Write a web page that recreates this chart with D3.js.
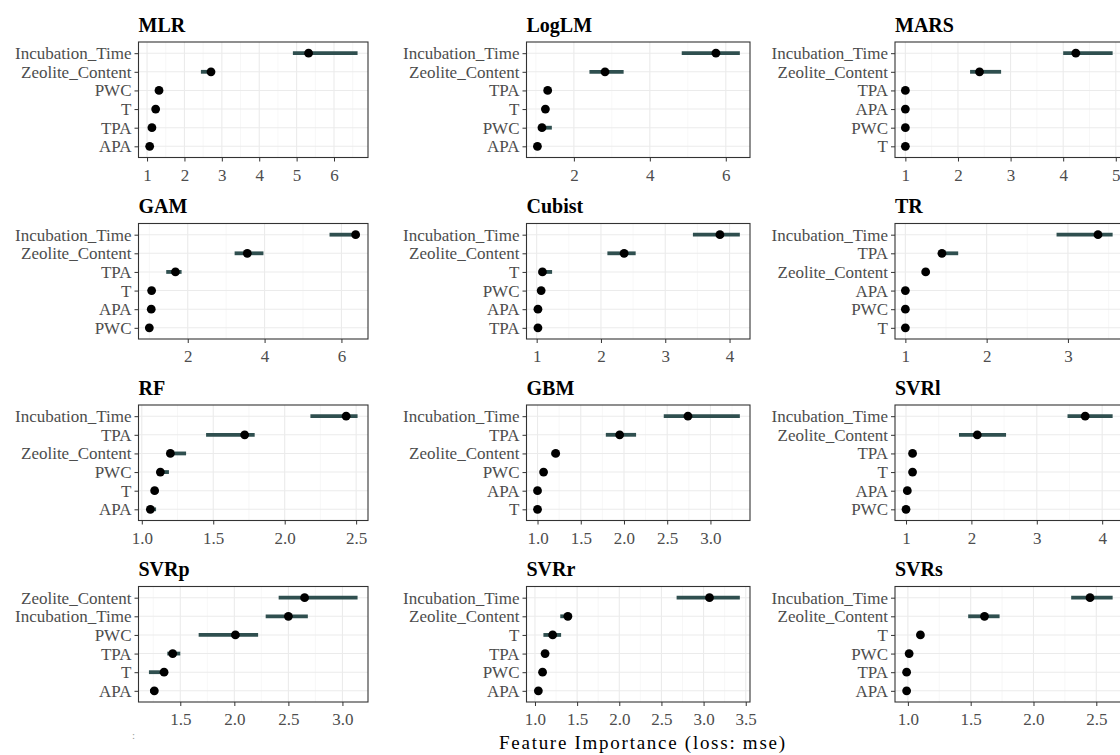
<!DOCTYPE html>
<html>
<head>
<meta charset="utf-8">
<script src="https://cdn.jsdelivr.net/npm/d3@7"></script>
<style>
  body { margin: 0; background: #fff; }
  svg { display: block; font-family: "Liberation Serif", "Times New Roman", serif; }
</style>
</head>
<body>
<div id="chart"></div>
<script>
// model names, reading order (three per row)
var models = ["MLR", "LogLM", "MARS", "GAM", "Cubist", "TR", "RF", "GBM", "SVRl", "SVRp", "SVRr", "SVRs"];

// features of each model, top to bottom
var features = [
  ["Incubation_Time", "Zeolite_Content", "PWC", "T", "TPA", "APA"],
  ["Incubation_Time", "Zeolite_Content", "TPA", "T", "PWC", "APA"],
  ["Incubation_Time", "Zeolite_Content", "TPA", "APA", "PWC", "T"],
  ["Incubation_Time", "Zeolite_Content", "TPA", "T", "APA", "PWC"],
  ["Incubation_Time", "Zeolite_Content", "T", "PWC", "APA", "TPA"],
  ["Incubation_Time", "TPA", "Zeolite_Content", "APA", "PWC", "T"],
  ["Incubation_Time", "TPA", "Zeolite_Content", "PWC", "T", "APA"],
  ["Incubation_Time", "TPA", "Zeolite_Content", "PWC", "APA", "T"],
  ["Incubation_Time", "Zeolite_Content", "TPA", "T", "APA", "PWC"],
  ["Zeolite_Content", "Incubation_Time", "PWC", "TPA", "T", "APA"],
  ["Incubation_Time", "Zeolite_Content", "T", "TPA", "PWC", "APA"],
  ["Incubation_Time", "Zeolite_Content", "T", "PWC", "TPA", "APA"]
];

// mean loss after permutation (dots)
var meanLoss = [
  [5.32, 2.71, 1.32, 1.23, 1.13, 1.07],
  [5.74, 2.82, 1.31, 1.25, 1.16, 1.04],
  [4.24, 2.41, 1.00, 1.00, 1.00, 1.00],
  [6.37, 3.55, 1.68, 1.06, 1.05, 1.00],
  [3.85, 2.36, 1.09, 1.07, 1.02, 1.02],
  [3.37, 1.45, 1.25, 1.00, 1.00, 1.00],
  [2.43, 1.72, 1.20, 1.13, 1.09, 1.06],
  [2.74, 1.95, 1.21, 1.07, 1.00, 1.00],
  [3.74, 2.09, 1.10, 1.10, 1.02, 1.00],
  [2.65, 2.50, 2.01, 1.43, 1.35, 1.26],
  [3.07, 1.39, 1.21, 1.12, 1.09, 1.04],
  [2.45, 1.61, 1.10, 1.01, 0.99, 0.99]
];

// lowest and highest loss over the permutations (bars)
var lowLoss = [
  [4.90, 2.44, 1.29, 1.20, 1.10, 1.05],
  [4.84, 2.41, 1.28, 1.22, 1.12, 1.02],
  [4.00, 2.23, 1.00, 1.00, 1.00, 1.00],
  [5.69, 3.22, 1.44, 1.04, 1.03, 0.99],
  [3.43, 2.10, 1.05, 1.05, 1.00, 1.00],
  [2.86, 1.44, 1.23, 1.00, 1.00, 1.00],
  [2.18, 1.45, 1.19, 1.12, 1.07, 1.05],
  [2.46, 1.79, 1.16, 1.05, 0.99, 0.99],
  [3.47, 1.81, 1.08, 1.08, 1.00, 0.99],
  [2.41, 2.29, 1.67, 1.38, 1.21, 1.22],
  [2.68, 1.30, 1.10, 1.10, 1.07, 1.02],
  [2.30, 1.48, 1.09, 1.00, 0.98, 0.98]
];
var highLoss = [
  [6.63, 2.76, 1.35, 1.25, 1.15, 1.09],
  [6.37, 3.31, 1.33, 1.28, 1.42, 1.06],
  [4.94, 2.82, 1.00, 1.00, 1.00, 1.00],
  [6.42, 3.97, 1.84, 1.08, 1.07, 1.01],
  [4.16, 2.54, 1.24, 1.09, 1.04, 1.04],
  [3.55, 1.65, 1.27, 1.00, 1.00, 1.00],
  [2.51, 1.79, 1.31, 1.19, 1.11, 1.10],
  [3.34, 2.14, 1.24, 1.09, 1.01, 1.01],
  [4.16, 2.53, 1.12, 1.12, 1.04, 1.01],
  [3.14, 2.68, 2.22, 1.50, 1.35, 1.29],
  [3.43, 1.44, 1.31, 1.14, 1.11, 1.06],
  [2.63, 1.73, 1.11, 1.02, 1.00, 1.00]
];

// x tick labels of each panel
var tickLabels = [
  ["1", "2", "3", "4", "5", "6"],
  ["2", "4", "6"],
  ["1", "2", "3", "4", "5"],
  ["2", "4", "6"],
  ["1", "2", "3", "4"],
  ["1", "2", "3"],
  ["1.0", "1.5", "2.0", "2.5"],
  ["1.0", "1.5", "2.0", "2.5", "3.0"],
  ["1", "2", "3", "4"],
  ["1.5", "2.0", "2.5", "3.0"],
  ["1.0", "1.5", "2.0", "2.5", "3.0", "3.5"],
  ["1.0", "1.5", "2.0", "2.5"]
];

var axisTitle = "Feature Importance (loss: mse)";

// page layout (panel rectangles of the grid)
var W = 1120, H = 755;
var colLeft = [138.5, 526.5, 895],
    colWidth = [229.5, 223.5, 228],
    rowTop = [42, 223.5, 405, 586.5],
    panelH = 115.5;

var barColor = "#2f4f4f",
    textGrey = "#4d4d4d";

var svg = d3.select("#chart")
  .append("svg")
  .attr("width", W)
  .attr("height", H);

models.forEach(function(name, k) {
  var col = k % 3, row = Math.floor(k / 3);
  var w = colWidth[col], h = panelH;

  var g = svg.append("g")
    .attr("transform", "translate(" + colLeft[col] + "," + rowTop[row] + ")");

  // rows of this panel
  var rows = features[k].map(function(f, i) {
    return { feature: f, mean: meanLoss[k][i], lo: lowLoss[k][i], hi: highLoss[k][i] };
  });

  // ggplot style: data range plus 5% on each side
  var lo = d3.min(rows, function(d) { return Math.min(d.lo, d.mean); }),
      hi = d3.max(rows, function(d) { return Math.max(d.hi, d.mean); }),
      pad = (hi - lo) * 0.05;

  var x = d3.scaleLinear()
    .domain([lo - pad, hi + pad])
    .range([0, w]);

  var y = d3.scalePoint()
    .domain(features[k])
    .range([0, h])
    .padding(0.6);

  var ticks = tickLabels[k].map(Number);
  var step = ticks[1] - ticks[0];
  var minor = d3.range(ticks[0] - step / 2, ticks[ticks.length - 1] + step, step)
    .filter(function(v) { return v > x.domain()[0] && v < x.domain()[1]; });

  // grid
  g.selectAll(".minor")
    .data(minor)
    .enter()
    .append("line")
      .attr("x1", function(d) { return x(d); })
      .attr("x2", function(d) { return x(d); })
      .attr("y1", 0)
      .attr("y2", h)
      .attr("stroke", "#f2f2f2")
      .attr("stroke-width", 0.6);

  g.selectAll(".vmajor")
    .data(ticks)
    .enter()
    .append("line")
      .attr("x1", function(d) { return x(d); })
      .attr("x2", function(d) { return x(d); })
      .attr("y1", 0)
      .attr("y2", h)
      .attr("stroke", "#ebebeb")
      .attr("stroke-width", 1.1);

  g.selectAll(".hmajor")
    .data(features[k])
    .enter()
    .append("line")
      .attr("x1", 0)
      .attr("x2", w)
      .attr("y1", function(d) { return y(d); })
      .attr("y2", function(d) { return y(d); })
      .attr("stroke", "#ebebeb")
      .attr("stroke-width", 1.1);

  // bars: min..max of the permutations
  g.selectAll(".bar")
    .data(rows)
    .enter()
    .append("line")
      .attr("x1", function(d) { return x(d.lo); })
      .attr("x2", function(d) { return x(d.hi); })
      .attr("y1", function(d) { return y(d.feature); })
      .attr("y2", function(d) { return y(d.feature); })
      .attr("stroke", barColor)
      .attr("stroke-width", 3.8);

  // dots: mean
  g.selectAll(".dot")
    .data(rows)
    .enter()
    .append("circle")
      .attr("cx", function(d) { return x(d.mean); })
      .attr("cy", function(d) { return y(d.feature); })
      .attr("r", 4.4)
      .attr("fill", "#000");

  // panel border
  g.append("rect")
    .attr("width", w)
    .attr("height", h)
    .attr("fill", "none")
    .attr("stroke", "#333")
    .attr("stroke-width", 1.1);

  // axes
  var xAxis = g.append("g")
    .attr("transform", "translate(0," + h + ")")
    .call(d3.axisBottom(x)
      .tickValues(ticks)
      .tickFormat(function(d, i) { return tickLabels[k][i]; })
      .tickSize(4)
      .tickPadding(7));

  var yAxis = g.append("g")
    .call(d3.axisLeft(y)
      .tickSize(4)
      .tickPadding(3));

  [xAxis, yAxis].forEach(function(a) {
    a.select(".domain").remove();
    a.selectAll("line").attr("stroke", "#333");
    a.selectAll("text")
      .attr("fill", textGrey)
      .style("font-size", "17px")
      .style("font-family", "'Liberation Serif', 'Times New Roman', serif");
  });

  // title
  g.append("text")
    .attr("x", 0)
    .attr("y", -10.5)
    .attr("fill", "#000")
    .style("font-size", "20px")
    .style("font-weight", "bold")
    .text(name);
});

// shared x axis title
svg.append("text")
  .attr("x", 499)
  .attr("y", 749)
  .attr("textLength", 286)
  .attr("lengthAdjust", "spacing")
  .attr("fill", "#000")
  .style("font-size", "19px")
  .text(axisTitle);

// small leftover mark at the bottom left
svg.append("text")
  .attr("x", 132)
  .attr("y", 739)
  .attr("fill", "#999")
  .style("font-size", "11px")
  .text(":");
</script>
</body>
</html>
